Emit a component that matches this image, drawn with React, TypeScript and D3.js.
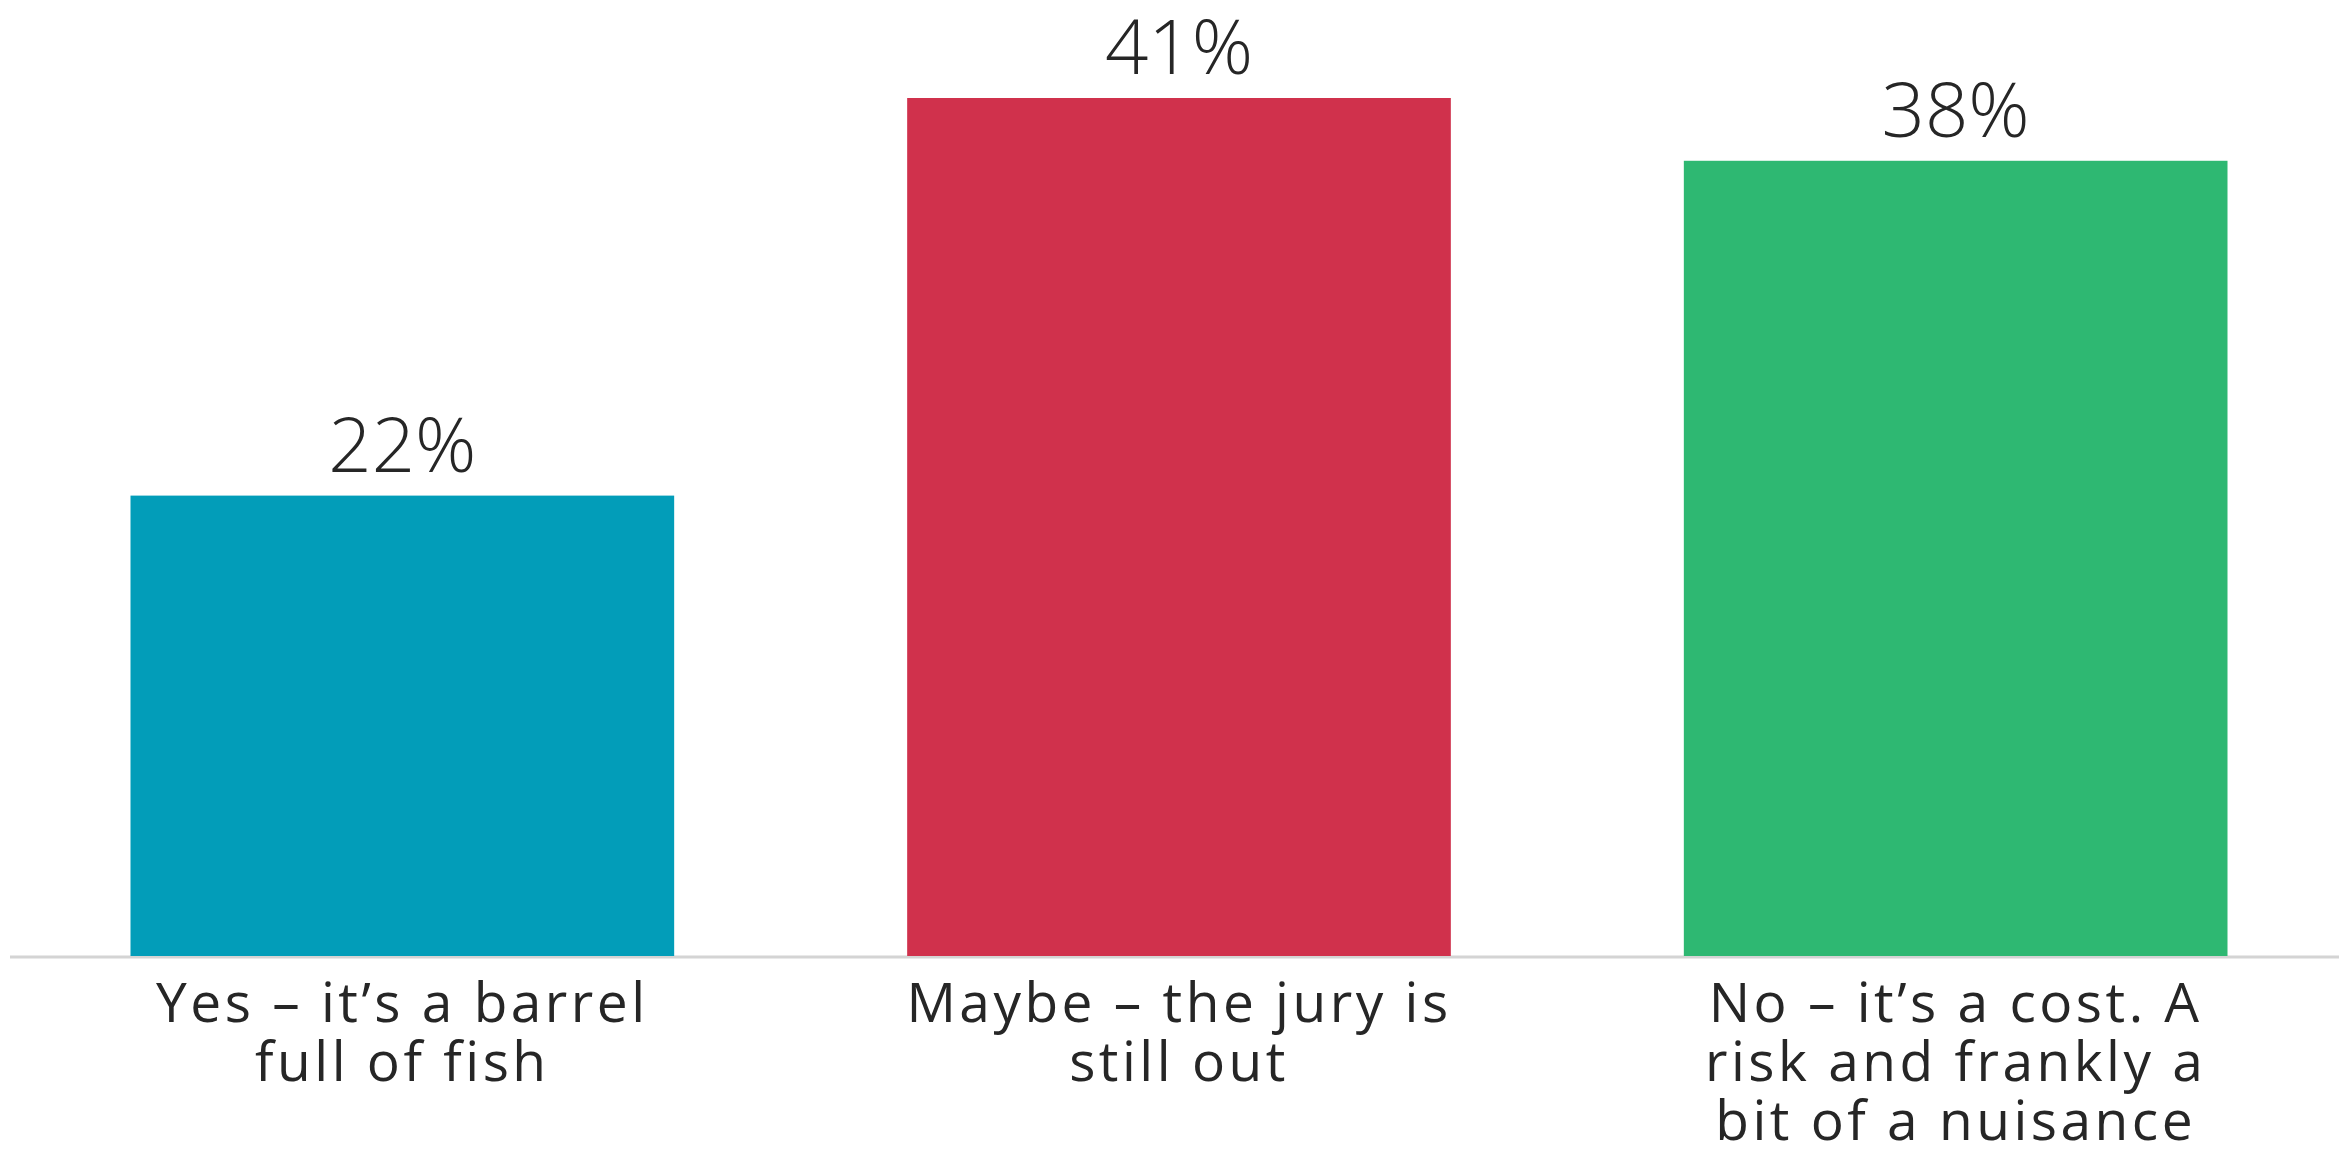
import React from "react";
import * as d3 from "d3";

const categories: string[][] = [
  ["Yes – it’s a barrel", "full of fish"],
  ["Maybe – the jury is", "still out"],
  ["No – it’s a cost. A", "risk and frankly a", "bit of a nuisance"],
];
const values: number[] = [22, 41, 38];
const valueLabels: string[] = ["22%", "41%", "38%"];
const colors: string[] = ["#029DB9", "#D0314C", "#2EB872"];

const W = 2339;
const H = 1153;
const baseY = 956;
const topY = 98;
const FONT = "'Open Sans', 'DejaVu Sans', sans-serif";

export default function App() {
  const ids = categories.map((_, i) => String(i));
  const x = d3.scaleBand<string>().domain(ids).range([14, 2344]).paddingInner(0.3).paddingOuter(0.15);
  const y = d3.scaleLinear().domain([0, 41]).range([baseY, topY]);

  return (
    <svg width={W} height={H} style={{ position: "absolute", left: 0, top: 0, background: "#fff" }}>
      <rect x={0} y={0} width={W} height={H} fill="#fff" />
      <line x1={10} x2={W} y1={baseY + 1} y2={baseY + 1} stroke="#d4d4d4" strokeWidth={3} />
      {values.map((v, i) => {
        const bx = x(ids[i])!;
        const bw = x.bandwidth();
        const cx = bx + bw / 2;
        return (
          <g key={i}>
            <rect x={bx} y={y(v)} width={bw} height={baseY - y(v)} fill={colors[i]} />
            <text x={cx} y={y(v) - 24} textAnchor="middle" fontFamily={FONT} fontWeight={300} fontSize={76} fill="#262626">
              {valueLabels[i]}
            </text>
            {categories[i].map((line, j) => (
              <text key={j} x={cx} y={1022 + j * 59} textAnchor="middle" fontFamily={FONT} fontWeight={400} fontSize={55} letterSpacing={3.5} fill="#262626">
                {line}
              </text>
            ))}
          </g>
        );
      })}
    </svg>
  );
}
